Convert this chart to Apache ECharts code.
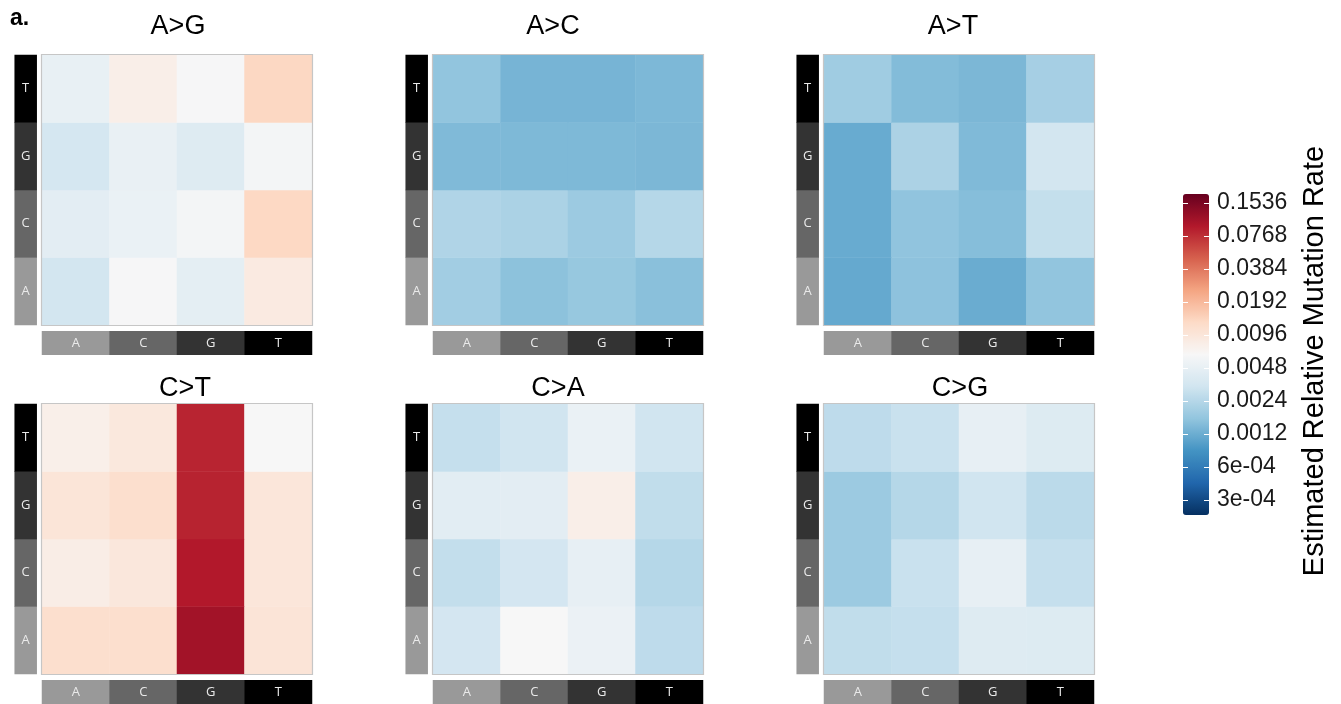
<!DOCTYPE html>
<html>
<head>
<meta charset="utf-8">
<style>
  html, body { margin: 0; padding: 0; background: #ffffff; }
  #chart { width: 1341px; height: 704px; }
</style>
<script src="https://cdn.jsdelivr.net/npm/echarts@6/dist/echarts.min.js"></script>
</head>
<body>
<div id="chart"></div>
<script>
// Flanking bases: x = 3' neighbour, y = 5' neighbour (bottom to top A, C, G, T)
const BASES = ['A', 'C', 'G', 'T'];
const PANEL_TITLES = ['A>G', 'A>C', 'A>T', 'C>T', 'C>A', 'C>G'];

// Estimated relative mutation rates; each row is one 5' base (A, C, G, T),
// each column one 3' base (A, C, G, T).
const RATES_A_G = [
  [0.00336, 0.00624, 0.00454, 0.00868],
  [0.00445, 0.00506, 0.00595, 0.0129],
  [0.00347, 0.00496, 0.00408, 0.00595],
  [0.00486, 0.0079, 0.00624, 0.013]
];
const RATES_A_C = [
  [0.00196, 0.00159, 0.00175, 0.00155],
  [0.00229, 0.00217, 0.00185, 0.00241],
  [0.00142, 0.0014, 0.0014, 0.00137],
  [0.00165, 0.00132, 0.00132, 0.00138]
];
const RATES_A_T = [
  [0.00113, 0.0016, 0.00118, 0.00165],
  [0.00116, 0.00164, 0.0015, 0.00284],
  [0.00116, 0.00218, 0.00142, 0.00336],
  [0.00192, 0.00146, 0.00137, 0.00205]
];
const RATES_C_T = [
  [0.0114, 0.0114, 0.109, 0.0100],
  [0.0081, 0.0093, 0.0944, 0.0096],
  [0.0098, 0.0114, 0.0853, 0.0096],
  [0.0078, 0.0092, 0.0842, 0.0064]
];
const RATES_C_A = [
  [0.00343, 0.00637, 0.00513, 0.00265],
  [0.0028, 0.00343, 0.0048, 0.00241],
  [0.0044, 0.00445, 0.0079, 0.00274],
  [0.00285, 0.00325, 0.00506, 0.00325]
];
const RATES_C_G = [
  [0.00274, 0.00285, 0.00408, 0.00403],
  [0.00185, 0.00297, 0.00476, 0.00285],
  [0.00185, 0.00241, 0.00325, 0.00256],
  [0.00265, 0.00297, 0.00476, 0.00403]
];
const PANEL_RATES = [RATES_A_G, RATES_A_C, RATES_A_T, RATES_C_T, RATES_C_A, RATES_C_G];

// Colour scale limits (log scale) and legend breaks
const SCALE_LIMITS = [0.000219, 0.1855];
const TICK_BASE = 0.0003;
const TICK_LABELS = ['3e-04', '6e-04', '0.0012', '0.0024', '0.0048', '0.0096',
                     '0.0192', '0.0384', '0.0768', '0.1536'];

const RDBU = ['#053061', '#2166ac', '#4393c3', '#92c5de', '#d1e5f0', '#f7f7f7',
              '#fddbc7', '#f4a582', '#d6604d', '#b2182b', '#67001f'];
const STRIP_GRAYS = ['#999999', '#666666', '#333333', '#000000'];

// Layout
const PANEL_LEFT = [42, 433, 824];
const PANEL_TOP = [55, 404];
const PANEL_SIZE = 270;
const TITLE_CX = [178, 553, 953, 185, 558, 960];
const TITLE_CY = [27, 389];
const FONT = 'Liberation Sans, Arial, Helvetica, sans-serif';

const grids = [], xAxes = [], yAxes = [], mainSeries = [], stripSeries = [], graphics = [];

function addGrid(g, xData, yData) {
  grids.push(Object.assign({ containLabel: false }, g));
  const idx = grids.length - 1;
  xAxes.push({ type: 'category', data: xData, gridIndex: idx, show: false });
  yAxes.push({ type: 'category', data: yData, gridIndex: idx, show: false });
  return idx;
}

const stripLabel = {
  show: true, color: '#eaeaea', fontSize: 13, fontFamily: 'Open Sans, sans-serif',
  formatter: p => p.name
};

PANEL_RATES.forEach((rates, p) => {
  const col = p % 3, row = Math.floor(p / 3);
  const hx = PANEL_LEFT[col], hy = PANEL_TOP[row];

  // heat map cells
  const gi = addGrid({ left: hx, top: hy, width: PANEL_SIZE, height: PANEL_SIZE }, BASES, BASES);
  const cells = [];
  rates.forEach((r, yi) => r.forEach((v, xi) => cells.push([xi, yi, Math.log2(v), v])));
  mainSeries.push({
    type: 'heatmap', name: PANEL_TITLES[p], xAxisIndex: gi, yAxisIndex: gi,
    data: cells, emphasis: { disabled: true }
  });

  // 5' base strip on the left
  const gl = addGrid({ left: hx - 27.3, top: hy, width: 22, height: PANEL_SIZE }, [''], BASES);
  stripSeries.push({
    type: 'heatmap', xAxisIndex: gl, yAxisIndex: gl, emphasis: { disabled: true },
    label: stripLabel,
    data: BASES.map((b, i) => ({ name: b, value: [0, i, 0], itemStyle: { color: STRIP_GRAYS[i] } }))
  });

  // 3' base strip below
  const gb = addGrid({ left: hx, top: hy + 276.3, width: PANEL_SIZE, height: 23.4 }, BASES, ['']);
  stripSeries.push({
    type: 'heatmap', xAxisIndex: gb, yAxisIndex: gb, emphasis: { disabled: true },
    label: stripLabel,
    data: BASES.map((b, i) => ({ name: b, value: [i, 0, 0], itemStyle: { color: STRIP_GRAYS[i] } }))
  });

  // panel outline
  graphics.push({
    type: 'rect', z: 100, silent: true,
    shape: { x: hx - 0.5, y: hy - 0.5, width: PANEL_SIZE + 1, height: PANEL_SIZE + 1 },
    style: { fill: null, stroke: '#c6c6c6', lineWidth: 1.2 }
  });

  // panel title
  graphics.push({
    type: 'text', x: TITLE_CX[p], y: TITLE_CY[row], z: 100,
    style: { text: PANEL_TITLES[p], fill: '#000', font: '27px ' + FONT, align: 'center', verticalAlign: 'middle' }
  });
});

// Colour bar geometry and its break axis (axis units: doublings above TICK_BASE)
const BAR_LEFT = 1183, BAR_TOP = 194, BAR_W = 26, BAR_H = 321;
const uLo = Math.log2(SCALE_LIMITS[0] / TICK_BASE);
const uHi = Math.log2(SCALE_LIMITS[1] / TICK_BASE);
const ppu = BAR_H / (uHi - uLo);
const AX_MIN = -1, AX_MAX = TICK_LABELS.length;
const barGrid = {
  left: BAR_LEFT, width: BAR_W,
  top: BAR_TOP - (AX_MAX - uHi) * ppu,
  height: (AX_MAX - AX_MIN) * ppu
};
grids.push(barGrid);
const bgi = grids.length - 1;
xAxes.push({ type: 'value', gridIndex: bgi, show: false, min: 0, max: 1 });
const tickLabel = v => (Number.isInteger(v) && v >= 0 && v < TICK_LABELS.length) ? TICK_LABELS[v] : '';
const barAxisBase = {
  type: 'value', gridIndex: bgi, min: AX_MIN, max: AX_MAX, interval: 1, z: 10,
  axisLine: { show: false }, splitLine: { show: false },
  axisTick: { show: true, inside: true, length: 5, lineStyle: { color: '#ffffff', width: 1 } }
};
yAxes.push(Object.assign({}, barAxisBase, {
  position: 'left', axisLabel: { show: false }
}));
yAxes.push(Object.assign({}, barAxisBase, {
  position: 'right',
  axisLabel: { show: true, margin: 8, color: '#1a1a1a', fontSize: 23, fontFamily: FONT, formatter: tickLabel }
}));

// legend title and figure tag
graphics.push({
  type: 'text', x: 1315, y: 361, rotation: Math.PI / 2, z: 100,
  style: { text: 'Estimated Relative Mutation Rate', fill: '#000', font: '29px ' + FONT, align: 'center', verticalAlign: 'middle' }
});
graphics.push({
  type: 'text', x: 10, y: 19, z: 100,
  style: { text: 'a.', fill: '#000', font: 'bold 23px ' + FONT, align: 'left', verticalAlign: 'middle' }
});

const chart = echarts.init(document.getElementById('chart'), null, { renderer: 'canvas' });
chart.setOption({
  animation: false,
  backgroundColor: '#ffffff',
  grid: grids,
  xAxis: xAxes,
  yAxis: yAxes,
  visualMap: {
    type: 'continuous',
    seriesIndex: mainSeries.map((s, i) => i),
    dimension: 2,
    min: Math.log2(SCALE_LIMITS[0]),
    max: Math.log2(SCALE_LIMITS[1]),
    inRange: { color: RDBU },
    orient: 'vertical',
    left: BAR_LEFT, top: BAR_TOP,
    itemWidth: BAR_W, itemHeight: BAR_H,
    padding: 0,
    calculable: false,
    hoverLink: false,
    text: null,
    showLabel: false,
    z: 4
  },
  graphic: graphics,
  series: mainSeries.concat(stripSeries)
});
</script>
</body>
</html>
